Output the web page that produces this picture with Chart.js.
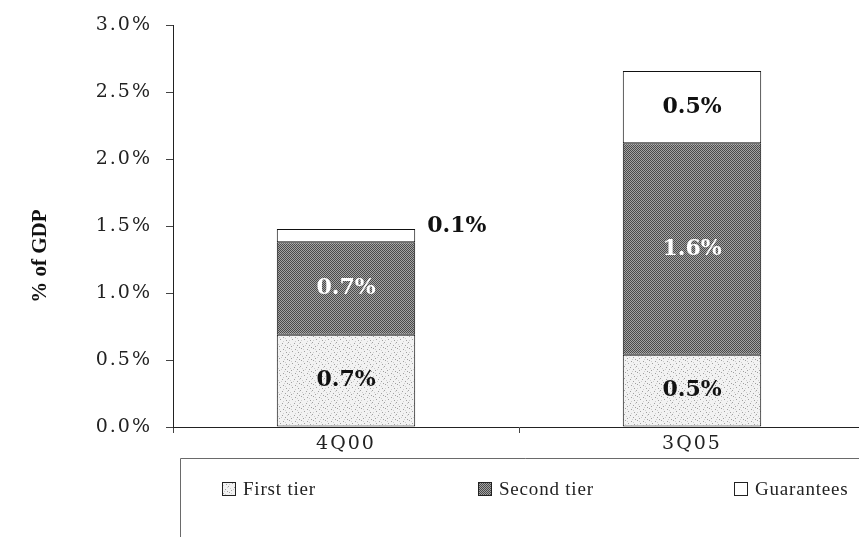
<!DOCTYPE html>
<html>
<head>
<meta charset="utf-8">
<script src="https://cdn.jsdelivr.net/npm/chart.js@4/dist/chart.umd.min.js"></script>
<style>
  html, body { margin: 0; padding: 0; background: #fff; overflow: hidden; }
  #wrap { width: 870px; height: 537px; position: relative; }
</style>
</head>
<body>
<div id="wrap"><canvas id="c"></canvas></div>
<script>
// Categories and stacked series (% of GDP)
const categories = ['4Q00', '3Q05'];
const seriesNames = ['First tier', 'Second tier', 'Guarantees'];
const firstTier  = [0.69, 0.54];
const secondTier = [0.69, 1.58];
const guarantees = [0.10, 0.54];
const axisTitle = '% of GDP';

const axisFont = { family: 'DejaVu Serif', size: 19 };
const labelFont = 'bold 22px "DejaVu Serif"';

// Small tiled textures for the bar fills
function makePattern(size, painter) {
  const cv = document.createElement('canvas');
  cv.width = size; cv.height = size;
  const g = cv.getContext('2d');
  painter(g);
  return g.createPattern(cv, 'repeat');
}
const lightSpeckle = makePattern(12, g => {
  g.fillStyle = '#f2f2f2'; g.fillRect(0, 0, 12, 12);
  g.fillStyle = '#a0a0a0';
  [[1,0],[7,1],[4,3],[10,4],[0,6],[6,7],[3,10],[9,9],[11,11]].forEach(([x, y]) => g.fillRect(x, y, 1, 1));
  g.fillStyle = '#cfcfcf';
  [[3,1],[9,2],[1,4],[7,5],[5,9],[11,7],[2,8],[8,11]].forEach(([x, y]) => g.fillRect(x, y, 1, 1));
});
const darkChecker = makePattern(2, g => {
  g.fillStyle = '#a4a4a4'; g.fillRect(0, 0, 2, 2);
  g.fillStyle = '#4a4a4a'; g.fillRect(0, 0, 1, 1); g.fillRect(1, 1, 1, 1);
});
const fills = [lightSpeckle, darkChecker, '#ffffff'];
const textColors = ['#111', '#fff', '#111'];

// Value labels for every stacked segment
const segmentLabels = {
  id: 'segmentLabels',
  afterDatasetsDraw(chart) {
    const ctx = chart.ctx;
    ctx.save();
    ctx.font = labelFont;
    ctx.letterSpacing = '0px';
    ctx.textBaseline = 'middle';
    chart.data.datasets.forEach((ds, di) => {
      const meta = chart.getDatasetMeta(di);
      meta.data.forEach((bar, i) => {
        const v = ds.data[i];
        const text = v.toFixed(1) + '%';
        const top = Math.min(bar.y, bar.base), bottom = Math.max(bar.y, bar.base);
        const h = bottom - top;
        if (h < 22) {
          ctx.fillStyle = '#111';
          ctx.textAlign = 'left';
          ctx.fillText(text, bar.x + bar.width / 2 + 12, top - 3);
        } else {
          ctx.fillStyle = textColors[di];
          ctx.textAlign = 'center';
          ctx.fillText(text, bar.x, (top + bottom) / 2);
        }
      });
    });
    ctx.restore();
  }
};

// Rotated value-axis title
const valueAxisTitle = {
  id: 'valueAxisTitle',
  afterDraw(chart) {
    const ctx = chart.ctx;
    const a = chart.chartArea;
    ctx.save();
    ctx.letterSpacing = '0px';
    ctx.translate(41, (a.top + a.bottom) / 2 + 30);
    ctx.rotate(-Math.PI / 2);
    ctx.font = 'bold 21px "Liberation Serif"';
    ctx.fillStyle = '#111';
    ctx.textAlign = 'center';
    ctx.textBaseline = 'middle';
    ctx.fillText(axisTitle, 0, 0);
    ctx.restore();
  }
};

// Boxed legend below the category axis
const boxedLegend = {
  id: 'boxedLegend',
  afterDraw(chart) {
    const ctx = chart.ctx;
    const top = chart.chartArea.bottom + 31;
    const left = 180;
    ctx.save();
    ctx.letterSpacing = '0px';
    ctx.strokeStyle = '#6a6a6a';
    ctx.lineWidth = 1;
    ctx.beginPath();
    ctx.moveTo(left + 0.5, chart.height);
    ctx.lineTo(left + 0.5, top + 0.5);
    ctx.lineTo(chart.width, top + 0.5);
    ctx.stroke();
    const slots = [222, 478, 734];
    const cy = top + 31;
    ctx.font = '19px "Liberation Serif"';
    ctx.letterSpacing = '0.8px';
    ctx.textBaseline = 'middle';
    ctx.textAlign = 'left';
    chart.data.datasets.forEach((ds, di) => {
      const x = slots[di];
      ctx.fillStyle = ds.backgroundColor;
      ctx.fillRect(x, cy - 7, 14, 14);
      ctx.strokeStyle = '#222';
      ctx.strokeRect(x + 0.5, cy - 6.5, 13, 13);
      ctx.fillStyle = '#222';
      ctx.fillText(ds.label, x + 21, cy + 1);
    });
    ctx.restore();
  }
};

// Wider spacing for axis tick text
const spacedAxisText = {
  id: 'spacedAxisText',
  beforeDraw(chart) { chart.ctx.letterSpacing = '2px'; },
  afterDraw(chart) { chart.ctx.letterSpacing = '0px'; }
};

const seriesValues = [firstTier, secondTier, guarantees];

new Chart(document.getElementById('c'), {
  type: 'bar',
  data: {
    labels: categories,
    datasets: seriesNames.map((name, i) => ({
      label: name,
      data: seriesValues[i],
      backgroundColor: fills[i],
      borderColor: '#111',
      borderWidth: 1,
      borderSkipped: false,
      categoryPercentage: 1,
      barPercentage: 0.4
    }))
  },
  options: {
    responsive: true,
    maintainAspectRatio: false,
    animation: false,
    layout: { padding: { top: 15, right: 5, bottom: 0, left: 0 } },
    plugins: {
      legend: { display: false },
      tooltip: { enabled: false }
    },
    scales: {
      x: {
        stacked: true,
        offset: true,
        afterFit(scale) { scale.height = 110; },
        grid: { display: true, drawOnChartArea: false, offset: true, tickLength: 6, color: '#444' },
        border: { display: true, color: '#222', width: 1 },
        ticks: { font: axisFont, color: '#222', padding: 0 }
      },
      y: {
        stacked: true,
        min: 0,
        max: 3,
        afterFit(scale) { scale.width = 173; },
        grid: { display: true, drawOnChartArea: false, tickLength: 7, color: '#444' },
        border: { display: true, color: '#222', width: 1 },
        ticks: {
          stepSize: 0.5,
          font: axisFont,
          color: '#222',
          padding: 14,
          callback: v => v.toFixed(1) + '%'
        }
      }
    }
  },
  plugins: [spacedAxisText, segmentLabels, valueAxisTitle, boxedLegend]
});
</script>
</body>
</html>
